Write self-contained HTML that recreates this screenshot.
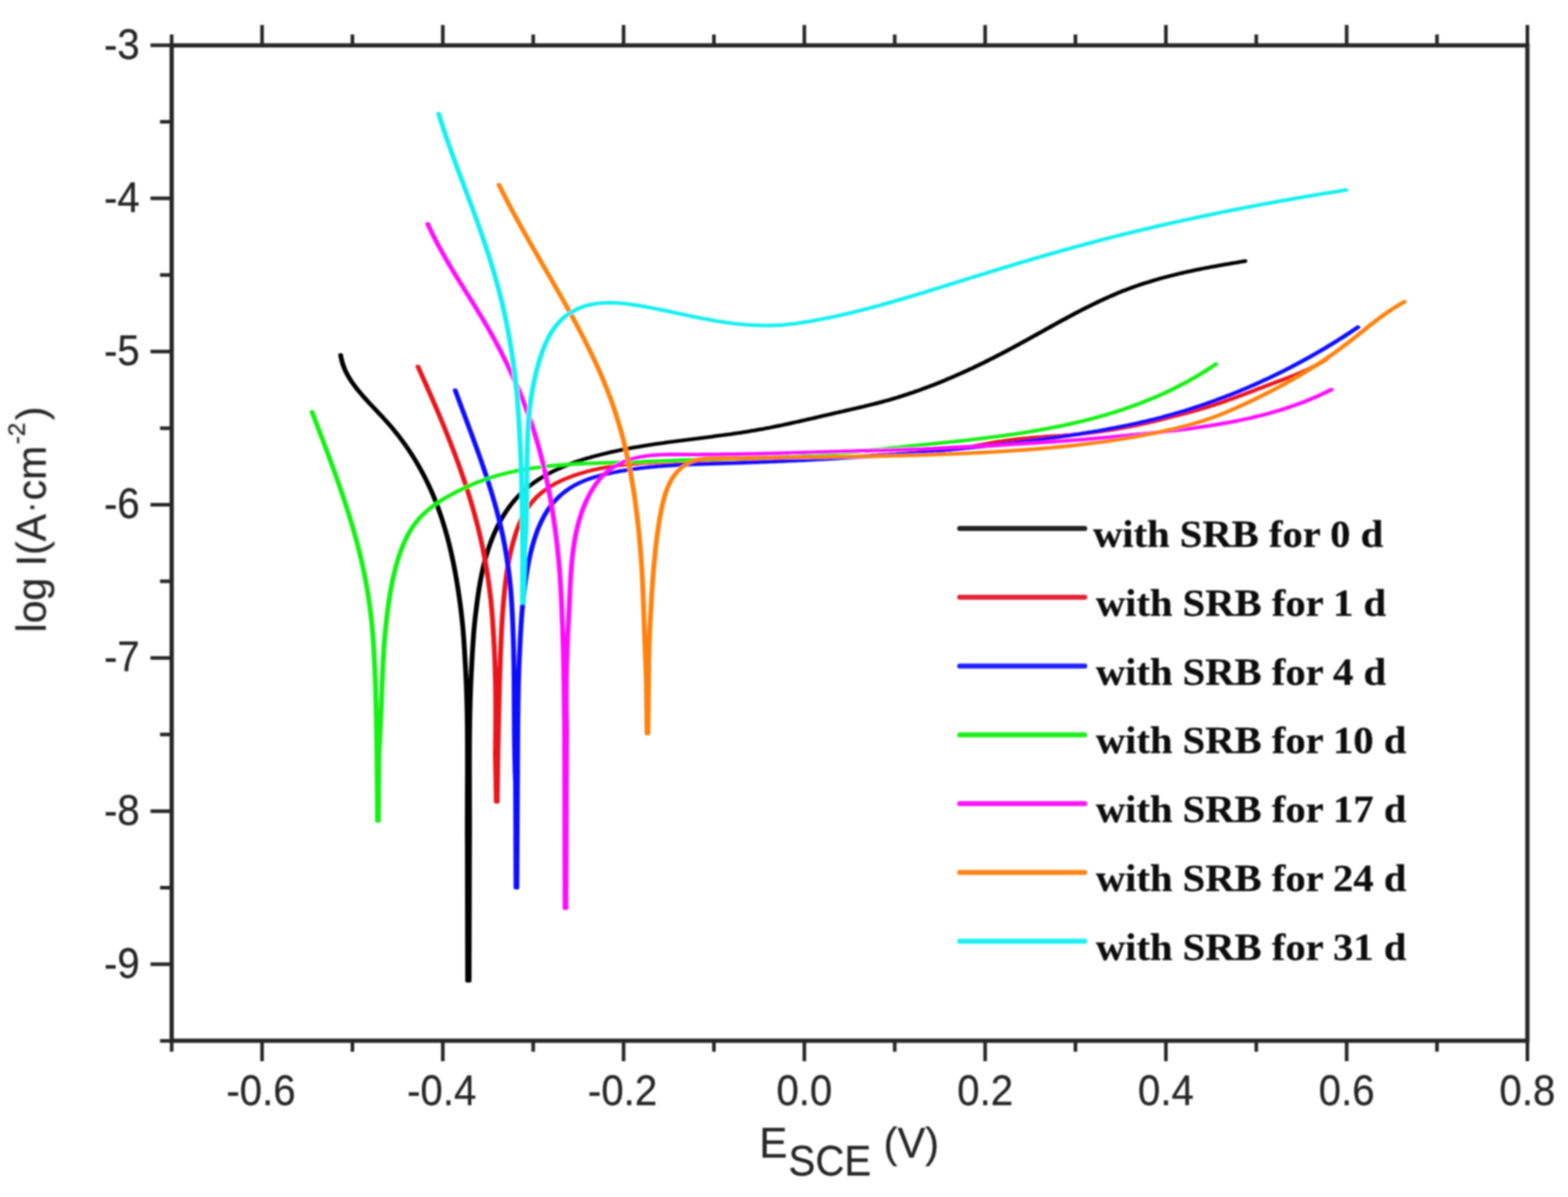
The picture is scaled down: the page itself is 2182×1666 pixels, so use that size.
<!DOCTYPE html>
<html lang="en"><head><meta charset="utf-8"><title>log I(A·cm-2) vs E SCE (V)</title>
<style>html,body{margin:0;padding:0;background:#fff;}body{width:2182px;height:1666px;overflow:hidden;}svg{display:block;}text{font-family:"Liberation Sans",Arial,Helvetica,sans-serif;fill:#262626;stroke:#262626;stroke-width:0.3px;}.lg{font-family:"Liberation Serif","Times New Roman",serif;font-weight:bold;fill:#0c0c0c;stroke:#0c0c0c;stroke-width:0.3px;}</style></head><body>
<svg width="2182" height="1666" viewBox="0 0 2182 1666">
<defs><filter id="soft" x="-2%" y="-2%" width="104%" height="104%"><feGaussianBlur stdDeviation="1.0"/></filter><filter id="soft2" x="-2%" y="-2%" width="104%" height="104%"><feGaussianBlur stdDeviation="1.2"/></filter></defs>
<rect width="2182" height="1666" fill="#ffffff"/>
<g filter="url(#soft2)"><g fill="none" stroke-width="5.1" stroke-linejoin="round" stroke-linecap="round" transform="scale(1.32,1)">
<path stroke="#060606" d="M359.14,494.1 L359.69,498.1 L360.39,502.1 L361.23,506.0 L362.21,509.8 L363.31,513.5 L364.54,517.1 L365.87,520.6 L367.30,524.0 L368.83,527.4 L370.45,530.7 L372.15,533.9 L373.91,537.1 L375.74,540.3 L377.63,543.4 L379.56,546.4 L381.53,549.5 L383.53,552.5 L385.56,555.5 L387.61,558.5 L389.69,561.4 L391.77,564.4 L393.87,567.3 L395.98,570.3 L398.08,573.2 L400.19,576.2 L402.29,579.1 L404.37,582.1 L406.44,585.1 L408.50,588.1 L410.52,591.2 L412.52,594.2 L414.50,597.3 L416.44,600.5 L418.36,603.6 L420.25,606.8 L422.11,610.0 L423.94,613.2 L425.74,616.5 L427.52,619.8 L429.27,623.1 L430.99,626.4 L432.67,629.8 L434.33,633.2 L435.97,636.6 L437.57,640.0 L439.14,643.5 L440.68,646.9 L442.20,650.4 L443.68,653.9 L445.14,657.5 L446.56,661.0 L447.95,664.6 L449.32,668.2 L450.65,671.8 L451.96,675.4 L453.23,679.1 L454.47,682.7 L455.69,686.4 L456.87,690.1 L458.03,693.8 L459.16,697.5 L460.26,701.3 L461.33,705.0 L462.38,708.8 L463.40,712.6 L464.39,716.4 L465.36,720.2 L466.31,724.0 L467.23,727.8 L468.12,731.7 L469.00,735.5 L469.85,739.4 L470.67,743.2 L471.48,747.1 L472.26,751.0 L473.02,754.9 L473.76,758.8 L474.48,762.7 L475.18,766.7 L475.86,770.6 L476.52,774.5 L477.17,778.5 L477.79,782.4 L478.40,786.4 L478.99,790.4 L479.56,794.3 L480.12,798.3 L480.66,802.3 L481.18,806.2 L481.69,810.2 L482.18,814.2 L482.66,818.2 L483.13,822.2 L483.58,826.2 L484.02,830.2 L484.45,834.1 L484.86,838.1 L485.26,842.1 L485.65,846.1 L486.03,850.1 L486.39,854.1 L486.74,858.1 L487.08,862.1 L487.41,866.1 L487.73,870.1 L487.99,874.1 L488.24,878.1 L488.48,882.1 L488.71,886.2 L488.94,890.2 L489.15,894.2 L489.36,898.2 L489.55,902.2 L489.74,906.2 L489.92,910.2 L490.10,914.2 L490.26,918.3 L490.44,922.3 L490.62,926.3 L490.79,930.3 L490.95,934.3 L491.10,938.4 L491.25,942.4 L491.39,946.4 L491.51,950.4 L491.64,954.4 L491.75,958.5 L491.86,962.5 L491.96,966.5 L492.06,970.5 L492.14,974.6 L492.23,978.6 L492.30,982.6 L492.37,986.7 L492.44,990.7 L492.50,994.7 L492.55,998.7 L492.60,1002.8 L492.64,1006.8 L492.68,1010.8 L492.72,1014.9 L492.75,1018.9 L492.78,1022.9 L492.80,1027.0 L492.82,1031.0 L492.84,1035.0 L492.85,1039.0 L492.86,1043.1 L492.86,1047.1 L492.87,1051.1 L492.87,1055.2 L492.87,1059.2 L492.87,1063.2 L492.86,1067.3 L492.86,1071.3 L492.85,1075.3 L492.84,1079.4 L492.83,1083.4 L492.82,1087.4 L492.81,1091.5 L492.79,1095.5 L492.78,1099.5 L492.77,1103.5 L492.75,1107.6 L492.74,1111.6 L492.73,1115.6 L492.72,1119.7 L492.71,1123.7 L492.70,1127.7 L492.69,1131.7 L492.68,1135.8 L492.67,1139.8 L492.67,1143.8 L492.67,1147.8 L492.67,1151.9 L492.67,1155.9 L492.67,1159.9 L492.68,1163.9 L492.69,1167.9 L492.71,1172.0 L492.72,1176.0 L492.74,1180.0 L493.03,1365.0 L494.55,1365.0 L494.91,1180.0 L494.93,1175.9 L494.95,1171.9 L494.96,1167.8 L494.97,1163.8 L494.98,1159.7 L494.98,1155.6 L494.98,1151.6 L494.98,1147.5 L494.98,1143.5 L494.98,1139.4 L494.98,1135.4 L494.97,1131.4 L494.97,1127.3 L494.96,1123.3 L494.95,1119.3 L494.94,1115.2 L494.93,1111.2 L494.92,1107.2 L494.91,1103.1 L494.91,1099.1 L494.90,1095.1 L494.89,1091.1 L494.88,1087.1 L494.88,1083.1 L494.87,1079.0 L494.87,1075.0 L494.86,1071.0 L494.86,1067.0 L494.86,1063.0 L494.87,1059.0 L494.87,1055.0 L494.88,1051.0 L494.89,1047.0 L494.90,1043.0 L494.91,1039.0 L494.93,1035.0 L494.95,1031.0 L494.98,1027.0 L495.01,1023.0 L495.04,1019.0 L495.08,1015.0 L495.12,1011.0 L495.16,1007.0 L495.21,1003.0 L495.26,999.0 L495.32,995.1 L495.38,991.1 L495.45,987.1 L495.53,983.1 L495.61,979.1 L495.69,975.1 L495.78,971.1 L495.88,967.1 L495.98,963.2 L496.09,959.2 L496.21,955.2 L496.33,951.2 L496.46,947.2 L496.60,943.2 L496.75,939.2 L496.90,935.3 L497.06,931.3 L497.23,927.3 L497.39,923.3 L497.54,919.3 L497.71,915.3 L497.88,911.3 L498.06,907.3 L498.24,903.4 L498.44,899.4 L498.64,895.4 L498.85,891.4 L499.07,887.4 L499.29,883.4 L499.53,879.4 L499.77,875.4 L500.06,871.4 L500.36,867.4 L500.68,863.4 L501.01,859.4 L501.35,855.4 L501.71,851.4 L502.07,847.4 L502.45,843.4 L502.83,839.4 L503.24,835.4 L503.66,831.4 L504.09,827.4 L504.55,823.4 L505.02,819.4 L505.52,815.4 L506.05,811.4 L506.59,807.5 L507.17,803.5 L507.77,799.5 L508.40,795.6 L509.07,791.7 L509.77,787.7 L510.50,783.8 L511.27,779.9 L512.07,776.0 L512.92,772.1 L513.81,768.3 L514.73,764.4 L515.71,760.6 L516.72,756.8 L517.79,753.0 L518.90,749.2 L520.06,745.5 L521.28,741.8 L522.54,738.1 L523.86,734.4 L525.23,730.7 L526.66,727.1 L528.14,723.6 L529.67,720.1 L531.25,716.6 L532.89,713.2 L534.59,709.8 L536.34,706.6 L538.14,703.3 L540.00,700.2 L541.91,697.1 L543.88,694.1 L545.90,691.2 L547.98,688.4 L550.11,685.7 L552.29,683.0 L554.52,680.4 L556.80,677.9 L559.12,675.5 L561.49,673.2 L563.90,670.9 L566.36,668.7 L568.85,666.5 L571.39,664.5 L573.96,662.4 L576.56,660.5 L579.20,658.6 L581.87,656.8 L584.57,655.0 L587.31,653.3 L590.07,651.7 L592.85,650.1 L595.66,648.5 L598.50,647.1 L601.35,645.6 L604.23,644.2 L607.12,642.9 L610.03,641.6 L612.95,640.3 L615.89,639.1 L618.85,637.9 L621.81,636.8 L624.78,635.7 L627.76,634.6 L630.75,633.6 L633.74,632.6 L636.73,631.6 L639.72,630.7 L642.72,629.7 L645.72,628.8 L648.71,628.0 L651.71,627.1 L654.71,626.3 L657.71,625.5 L660.71,624.8 L663.71,624.0 L666.71,623.3 L669.71,622.6 L672.72,621.9 L675.72,621.2 L678.72,620.6 L681.73,619.9 L684.73,619.3 L687.74,618.7 L690.74,618.1 L693.75,617.5 L696.75,616.9 L699.76,616.4 L702.76,615.8 L705.77,615.3 L708.77,614.7 L711.78,614.2 L714.79,613.7 L717.79,613.2 L720.80,612.7 L723.80,612.2 L726.81,611.7 L729.81,611.2 L732.82,610.7 L735.82,610.2 L738.83,609.7 L741.83,609.2 L744.84,608.7 L747.84,608.2 L750.84,607.7 L753.85,607.1 L756.85,606.6 L759.85,606.1 L762.85,605.6 L765.85,605.0 L768.85,604.5 L771.85,603.9 L774.85,603.3 L777.85,602.8 L780.84,602.2 L783.84,601.6 L786.83,600.9 L789.83,600.3 L792.82,599.6 L795.81,599.0 L798.80,598.3 L801.79,597.6 L804.78,596.9 L807.77,596.1 L810.75,595.4 L813.74,594.6 L816.72,593.8 L819.71,593.0 L822.69,592.2 L825.67,591.4 L828.65,590.5 L831.63,589.7 L834.61,588.8 L837.59,587.9 L840.57,587.1 L843.55,586.2 L846.52,585.3 L849.50,584.4 L852.47,583.5 L855.45,582.6 L858.42,581.7 L861.39,580.8 L864.36,579.8 L867.34,578.9 L870.31,578.0 L873.28,577.1 L876.25,576.2 L879.22,575.3 L882.19,574.4 L885.16,573.5 L888.12,572.6 L891.09,571.7 L894.06,570.8 L897.02,569.9 L899.98,569.0 L902.95,568.1 L905.90,567.2 L908.86,566.3 L911.81,565.3 L914.76,564.4 L917.71,563.4 L920.65,562.5 L923.59,561.5 L926.52,560.5 L929.45,559.5 L932.38,558.4 L935.30,557.3 L938.21,556.3 L941.12,555.1 L944.02,554.0 L946.92,552.8 L949.81,551.6 L952.70,550.4 L955.58,549.2 L958.46,547.9 L961.33,546.7 L964.19,545.4 L967.05,544.0 L969.91,542.7 L972.76,541.3 L975.60,539.9 L978.44,538.5 L981.28,537.1 L984.11,535.7 L986.93,534.2 L989.75,532.7 L992.56,531.2 L995.37,529.7 L998.18,528.1 L1000.98,526.6 L1003.77,525.0 L1006.56,523.4 L1009.34,521.8 L1012.12,520.1 L1014.90,518.5 L1017.67,516.8 L1020.43,515.2 L1023.19,513.5 L1025.95,511.8 L1028.70,510.0 L1031.45,508.3 L1034.19,506.5 L1036.93,504.8 L1039.66,503.0 L1042.39,501.2 L1045.11,499.4 L1047.83,497.6 L1050.55,495.7 L1053.26,493.9 L1055.96,492.1 L1058.66,490.2 L1061.36,488.3 L1064.05,486.4 L1066.74,484.5 L1069.43,482.6 L1072.11,480.7 L1074.78,478.8 L1077.46,476.8 L1080.13,474.9 L1082.80,473.0 L1085.46,471.0 L1088.13,469.0 L1090.79,467.1 L1093.45,465.1 L1096.11,463.2 L1098.77,461.2 L1101.43,459.3 L1104.09,457.3 L1106.75,455.4 L1109.41,453.4 L1112.07,451.5 L1114.74,449.5 L1117.40,447.6 L1120.07,445.7 L1122.74,443.8 L1125.41,441.9 L1128.09,440.0 L1130.77,438.1 L1133.45,436.2 L1136.14,434.3 L1138.83,432.5 L1141.53,430.7 L1144.23,428.9 L1146.93,427.1 L1149.65,425.3 L1152.36,423.5 L1155.09,421.8 L1157.82,420.0 L1160.56,418.3 L1163.30,416.7 L1166.06,415.0 L1168.82,413.4 L1171.59,411.8 L1174.36,410.2 L1177.15,408.6 L1179.95,407.1 L1182.75,405.6 L1185.57,404.1 L1188.40,402.7 L1191.23,401.3 L1194.08,399.9 L1196.94,398.5 L1199.81,397.2 L1202.68,395.9 L1205.57,394.7 L1208.47,393.5 L1211.37,392.3 L1214.28,391.1 L1217.21,389.9 L1220.13,388.8 L1223.07,387.7 L1226.01,386.7 L1228.96,385.6 L1231.91,384.6 L1234.87,383.6 L1237.83,382.6 L1240.80,381.7 L1243.77,380.7 L1246.75,379.8 L1249.73,378.9 L1252.71,378.0 L1255.70,377.2 L1258.69,376.3 L1261.68,375.5 L1264.67,374.7 L1267.66,373.9 L1270.65,373.1 L1273.65,372.4 L1276.64,371.6 L1279.63,370.9 L1282.62,370.2 L1285.62,369.4 L1288.60,368.7 L1291.59,368.0 L1294.58,367.4 L1297.56,366.7 L1300.54,366.0 L1303.51,365.4 L1306.48,364.7 L1309.45,364.1 L1312.41,363.4"/>
<path stroke="#e8141e" d="M440.60,510.2 L441.85,513.9 L443.10,517.5 L444.34,521.2 L445.59,524.9 L446.83,528.5 L448.07,532.2 L449.30,535.9 L450.54,539.6 L451.77,543.2 L452.99,546.9 L454.22,550.6 L455.44,554.3 L456.65,558.0 L457.86,561.7 L459.07,565.4 L460.27,569.1 L461.47,572.8 L462.66,576.6 L463.84,580.3 L465.02,584.0 L466.19,587.7 L467.36,591.5 L468.52,595.2 L469.67,598.9 L470.82,602.7 L471.95,606.4 L473.08,610.2 L474.20,613.9 L475.32,617.7 L476.42,621.5 L477.52,625.2 L478.61,629.0 L479.69,632.8 L480.75,636.6 L481.81,640.4 L482.86,644.2 L483.90,648.0 L484.93,651.8 L485.95,655.6 L486.95,659.4 L487.95,663.2 L488.93,667.0 L489.91,670.8 L490.87,674.6 L491.81,678.5 L492.75,682.3 L493.67,686.1 L494.58,690.0 L495.48,693.8 L496.36,697.7 L497.23,701.6 L498.08,705.4 L498.92,709.3 L499.75,713.2 L500.56,717.0 L501.36,720.9 L502.14,724.8 L502.91,728.7 L503.66,732.6 L504.39,736.5 L505.11,740.4 L505.81,744.3 L506.49,748.2 L507.16,752.1 L507.81,756.1 L508.44,760.0 L509.06,763.9 L509.66,767.9 L510.24,771.8 L510.81,775.8 L511.36,779.7 L511.89,783.7 L512.41,787.6 L512.91,791.6 L513.40,795.6 L513.87,799.6 L514.33,803.5 L514.78,807.5 L515.21,811.5 L515.62,815.5 L516.02,819.5 L516.41,823.5 L516.78,827.5 L517.14,831.5 L517.49,835.5 L517.80,839.5 L518.07,843.5 L518.34,847.5 L518.59,851.5 L518.83,855.5 L519.06,859.6 L519.29,863.6 L519.50,867.6 L519.70,871.6 L519.90,875.7 L520.08,879.7 L520.26,883.7 L520.46,887.7 L520.64,891.8 L520.82,895.8 L520.99,899.8 L521.15,903.9 L521.29,907.9 L521.43,912.0 L521.56,916.0 L521.68,920.0 L521.80,924.1 L521.90,928.1 L522.00,932.2 L522.09,936.2 L522.17,940.2 L522.24,944.3 L522.31,948.3 L522.37,952.4 L522.42,956.4 L522.47,960.4 L522.51,964.5 L522.54,968.5 L522.57,972.6 L522.59,976.6 L522.61,980.6 L522.62,984.7 L522.63,988.7 L522.63,992.7 L522.63,996.8 L522.62,1000.8 L522.61,1004.8 L522.59,1008.8 L522.58,1012.9 L522.55,1016.9 L522.53,1020.9 L522.50,1024.9 L522.47,1028.9 L522.43,1032.9 L522.39,1037.0 L522.35,1041.0 L522.31,1045.0 L522.27,1049.0 L523.26,1116.0 L524.17,1116.0 L524.88,1049.0 L524.96,1045.0 L525.03,1041.0 L525.10,1037.0 L525.17,1033.0 L525.24,1029.0 L525.30,1025.0 L525.37,1021.0 L525.43,1017.0 L525.50,1013.0 L525.57,1008.9 L525.63,1004.9 L525.70,1000.9 L525.76,996.9 L525.83,992.9 L525.90,988.9 L525.97,984.9 L526.04,980.8 L526.11,976.8 L526.19,972.8 L526.26,968.8 L526.34,964.8 L526.42,960.8 L526.51,956.7 L526.59,952.7 L526.68,948.7 L526.78,944.7 L526.88,940.7 L526.98,936.7 L527.08,932.6 L527.19,928.6 L527.29,924.6 L527.39,920.6 L527.49,916.6 L527.60,912.6 L527.72,908.6 L527.83,904.6 L527.96,900.5 L528.09,896.5 L528.22,892.5 L528.36,888.5 L528.50,884.5 L528.65,880.5 L528.81,876.5 L528.97,872.5 L529.14,868.5 L529.31,864.5 L529.50,860.5 L529.68,856.6 L529.90,852.6 L530.14,848.6 L530.38,844.6 L530.64,840.6 L530.91,836.6 L531.18,832.7 L531.47,828.7 L531.76,824.7 L532.07,820.8 L532.40,816.8 L532.74,812.8 L533.10,808.9 L533.48,804.9 L533.88,800.9 L534.31,797.0 L534.77,793.0 L535.25,789.1 L535.77,785.1 L536.31,781.2 L536.89,777.2 L537.51,773.3 L538.16,769.3 L538.86,765.4 L539.59,761.4 L540.37,757.5 L541.19,753.5 L542.06,749.6 L542.98,745.6 L543.95,741.7 L544.98,737.8 L546.07,733.9 L547.22,730.1 L548.44,726.3 L549.72,722.6 L551.08,718.9 L552.51,715.3 L554.02,711.8 L555.61,708.4 L557.28,705.1 L559.05,701.9 L560.90,698.9 L562.84,695.9 L564.87,693.1 L566.99,690.3 L569.18,687.7 L571.45,685.2 L573.80,682.8 L576.21,680.6 L578.68,678.4 L581.22,676.3 L583.81,674.3 L586.45,672.4 L589.14,670.6 L591.88,668.9 L594.65,667.2 L597.46,665.7 L600.31,664.2 L603.18,662.8 L606.07,661.4 L608.99,660.2 L611.92,658.9 L614.86,657.8 L617.82,656.7 L620.77,655.7 L623.74,654.7 L626.70,653.7 L629.68,652.9 L632.65,652.0 L635.64,651.3 L638.62,650.5 L641.61,649.8 L644.61,649.2 L647.61,648.6 L650.61,648.0 L653.61,647.5 L656.62,647.0 L659.64,646.5 L662.65,646.1 L665.67,645.8 L668.70,645.4 L671.72,645.1 L674.75,644.8 L677.78,644.5 L680.82,644.3 L683.85,644.1 L686.89,643.9 L689.93,643.8 L692.98,643.6 L696.02,643.5 L699.07,643.4 L702.11,643.3 L705.16,643.3 L708.21,643.2 L711.26,643.2 L714.31,643.2 L717.37,643.2 L720.42,643.2 L723.47,643.2 L726.53,643.2 L729.58,643.2 L732.64,643.2 L735.69,643.2 L738.75,643.3 L741.80,643.3 L744.85,643.3 L747.91,643.3 L750.96,643.3 L754.01,643.3 L757.06,643.3 L760.11,643.3 L763.16,643.3 L766.21,643.3 L769.25,643.2 L772.30,643.2 L775.34,643.1 L778.38,643.0 L781.42,643.0 L784.46,642.9 L787.50,642.8 L790.54,642.7 L793.58,642.6 L796.62,642.5 L799.66,642.4 L802.69,642.2 L805.73,642.1 L808.76,642.0 L811.80,641.8 L814.83,641.7 L817.86,641.5 L820.89,641.4 L823.93,641.2 L826.96,641.0 L829.99,640.8 L833.02,640.7 L836.05,640.5 L839.08,640.3 L842.11,640.1 L845.14,639.9 L848.16,639.7 L851.19,639.5 L854.22,639.3 L857.25,639.0 L860.28,638.8 L863.31,638.6 L866.33,638.4 L869.36,638.1 L872.39,637.9 L875.42,637.7 L878.45,637.4 L881.48,637.2 L884.51,636.9 L887.53,636.7 L890.56,636.5 L893.59,636.2 L896.62,636.0 L899.65,635.7 L902.68,635.5 L905.71,635.2 L908.74,635.0 L911.78,634.7 L914.81,634.5 L917.84,634.2 L920.87,633.9 L923.91,633.7 L926.94,633.4 L929.98,633.2 L933.01,632.9 L936.05,632.7 L939.09,632.4 L942.13,632.2 L945.16,632.0 L948.20,631.7 L951.25,631.5 L954.29,631.2 L957.33,631.0 L960.37,630.7 L963.41,630.5 L966.45,630.2 L969.49,629.9 L972.53,629.7 L975.57,629.4 L978.61,629.1 L981.64,628.7 L984.67,628.4 L987.70,628.0 L990.73,627.6 L993.76,627.2 L996.78,626.8 L999.80,626.3 L1002.81,625.9 L1005.83,625.3 L1008.83,624.8 L1011.84,624.2 L1014.84,623.6 L1017.83,623.0 L1020.82,622.3 L1023.81,621.6 L1026.80,620.9 L1029.78,620.1 L1032.77,619.4 L1035.75,618.7 L1038.73,617.9 L1041.72,617.2 L1044.70,616.5 L1047.69,615.8 L1050.68,615.1 L1053.67,614.5 L1056.67,613.9 L1059.67,613.3 L1062.68,612.8 L1065.69,612.3 L1068.70,611.8 L1071.72,611.3 L1074.74,610.9 L1077.76,610.5 L1080.79,610.1 L1083.82,609.8 L1086.85,609.4 L1089.88,609.1 L1092.91,608.8 L1095.94,608.5 L1098.98,608.2 L1102.02,607.9 L1105.05,607.6 L1108.09,607.3 L1111.13,607.0 L1114.16,606.8 L1117.20,606.5 L1120.23,606.2 L1123.27,605.8 L1126.30,605.5 L1129.33,605.2 L1132.36,604.8 L1135.39,604.4 L1138.41,604.1 L1141.44,603.6 L1144.46,603.2 L1147.47,602.7 L1150.49,602.3 L1153.50,601.8 L1156.51,601.2 L1159.52,600.7 L1162.53,600.1 L1165.53,599.6 L1168.53,598.9 L1171.53,598.3 L1174.52,597.7 L1177.52,597.0 L1180.51,596.3 L1183.49,595.6 L1186.48,594.9 L1189.46,594.1 L1192.44,593.4 L1195.42,592.6 L1198.40,591.8 L1201.37,590.9 L1204.34,590.1 L1207.31,589.2 L1210.28,588.3 L1213.24,587.4 L1216.20,586.5 L1219.16,585.5 L1222.11,584.6 L1225.07,583.6 L1228.02,582.6 L1230.97,581.6 L1233.92,580.6 L1236.87,579.6 L1239.81,578.6 L1242.75,577.6 L1245.70,576.6 L1248.64,575.6 L1251.57,574.5 L1254.51,573.5 L1257.44,572.4 L1260.36,571.3 L1263.29,570.3 L1266.20,569.2 L1269.12,568.0 L1272.03,566.9 L1274.93,565.7 L1277.82,564.5 L1280.71,563.3 L1283.59,562.0 L1286.47,560.8 L1289.34,559.5 L1292.20,558.1 L1295.06,556.8 L1297.92,555.4 L1300.77,554.1 L1303.62,552.7 L1306.47,551.3 L1309.32,549.9 L1312.16,548.4 L1315.00,547.0 L1317.84,545.6 L1320.68,544.2 L1323.52,542.7 L1326.36,541.3 L1329.21,539.9 L1332.05,538.4 L1334.89,537.0 L1337.74,535.6 L1340.59,534.2 L1343.44,532.8 L1346.30,531.4 L1349.15,530.1 L1352.01,528.7 L1354.85,527.3 L1357.70,525.9 L1360.53,524.4 L1363.36,523.0 L1366.17,521.5 L1368.98,520.0 L1371.77,518.4 L1374.54,516.8 L1377.29,515.2 L1380.03,513.5 L1382.74,511.7 L1385.44,509.9 L1388.10,508.0 L1390.74,506.0 L1393.36,503.9 L1395.94,501.8 L1398.49,499.5"/>
<path stroke="#0c0cff" d="M479.86,543.1 L480.91,546.8 L481.97,550.6 L483.03,554.4 L484.09,558.2 L485.16,562.0 L486.23,565.8 L487.30,569.6 L488.37,573.3 L489.45,577.1 L490.52,580.9 L491.60,584.7 L492.67,588.5 L493.74,592.3 L494.81,596.1 L495.88,599.9 L496.95,603.7 L498.01,607.5 L499.07,611.4 L500.13,615.2 L501.18,619.0 L502.23,622.8 L503.27,626.6 L504.30,630.4 L505.33,634.3 L506.36,638.1 L507.37,641.9 L508.38,645.8 L509.38,649.6 L510.37,653.5 L511.35,657.3 L512.32,661.1 L513.28,665.0 L514.23,668.9 L515.17,672.7 L516.10,676.6 L517.01,680.4 L517.91,684.3 L518.80,688.2 L519.68,692.1 L520.54,696.0 L521.38,699.8 L522.21,703.7 L523.03,707.6 L523.83,711.5 L524.61,715.4 L525.38,719.4 L526.13,723.3 L526.86,727.2 L527.57,731.1 L528.26,735.0 L528.93,739.0 L529.58,742.9 L530.22,746.9 L530.83,750.8 L531.42,754.8 L531.98,758.7 L532.53,762.7 L533.06,766.7 L533.57,770.7 L534.06,774.6 L534.53,778.6 L534.98,782.6 L535.41,786.6 L535.83,790.6 L536.23,794.6 L536.61,798.6 L536.97,802.6 L537.32,806.6 L537.65,810.7 L537.97,814.7 L538.27,818.7 L538.54,822.7 L538.77,826.8 L538.99,830.8 L539.20,834.8 L539.40,838.9 L539.59,842.9 L539.77,847.0 L539.94,851.0 L540.10,855.1 L540.24,859.1 L540.39,863.1 L540.52,867.2 L540.64,871.3 L540.76,875.3 L540.86,879.4 L540.96,883.4 L541.07,887.5 L541.17,891.5 L541.27,895.6 L541.36,899.6 L541.44,903.7 L541.51,907.8 L541.58,911.8 L541.64,915.9 L541.70,919.9 L541.75,924.0 L541.80,928.1 L541.84,932.1 L541.88,936.2 L541.92,940.2 L541.95,944.3 L541.98,948.4 L542.00,952.4 L542.03,956.5 L542.05,960.5 L542.07,964.6 L542.09,968.7 L542.10,972.7 L542.12,976.8 L542.13,980.8 L542.15,984.9 L542.16,988.9 L542.18,993.0 L542.19,997.0 L542.21,1001.1 L542.23,1005.2 L542.25,1009.2 L542.27,1013.3 L542.30,1017.3 L542.33,1021.4 L542.36,1025.4 L542.39,1029.5 L542.43,1033.5 L542.47,1037.5 L542.52,1041.6 L542.57,1045.6 L542.63,1049.7 L542.69,1053.7 L542.76,1057.7 L542.83,1061.8 L542.91,1065.8 L543.00,1069.8 L543.09,1073.9 L543.20,1077.9 L543.31,1081.9 L543.42,1085.9 L543.55,1090.0 L544.02,1235.5 L544.92,1235.5 L545.51,1090.0 L545.54,1086.0 L545.56,1082.0 L545.59,1077.9 L545.61,1073.9 L545.63,1069.8 L545.65,1065.8 L545.67,1061.8 L545.69,1057.8 L545.70,1053.7 L545.72,1049.7 L545.74,1045.7 L545.75,1041.7 L545.77,1037.7 L545.79,1033.6 L545.80,1029.6 L545.82,1025.6 L545.84,1021.6 L545.86,1017.6 L545.89,1013.6 L545.91,1009.6 L545.94,1005.5 L545.97,1001.5 L546.00,997.5 L546.03,993.5 L546.07,989.5 L546.11,985.5 L546.15,981.5 L546.20,977.5 L546.25,973.5 L546.30,969.5 L546.36,965.5 L546.42,961.5 L546.49,957.5 L546.56,953.5 L546.64,949.5 L546.72,945.5 L546.81,941.5 L546.90,937.5 L547.00,933.5 L547.11,929.5 L547.22,925.6 L547.34,921.6 L547.47,917.6 L547.60,913.6 L547.74,909.6 L547.89,905.6 L548.03,901.6 L548.17,897.6 L548.32,893.6 L548.47,889.6 L548.63,885.6 L548.80,881.6 L548.98,877.6 L549.16,873.6 L549.35,869.6 L549.55,865.6 L549.76,861.7 L549.98,857.7 L550.21,853.7 L550.44,849.7 L550.72,845.7 L551.01,841.7 L551.32,837.7 L551.65,833.7 L551.98,829.7 L552.33,825.7 L552.68,821.7 L553.05,817.7 L553.44,813.7 L553.85,809.7 L554.27,805.7 L554.72,801.7 L555.19,797.7 L555.69,793.7 L556.21,789.7 L556.76,785.8 L557.35,781.8 L557.96,777.8 L558.62,773.9 L559.31,770.0 L560.04,766.0 L560.81,762.1 L561.63,758.2 L562.49,754.3 L563.39,750.4 L564.35,746.6 L565.36,742.7 L566.42,738.9 L567.55,735.1 L568.73,731.4 L569.98,727.7 L571.29,724.1 L572.68,720.5 L574.13,717.0 L575.66,713.6 L577.27,710.2 L578.96,707.0 L580.74,703.8 L582.60,700.7 L584.55,697.7 L586.57,694.9 L588.68,692.1 L590.87,689.4 L593.13,686.9 L595.46,684.4 L597.86,682.1 L600.32,679.8 L602.85,677.7 L605.44,675.7 L608.08,673.9 L610.78,672.1 L613.53,670.5 L616.32,668.9 L619.15,667.5 L622.02,666.1 L624.92,664.9 L627.85,663.7 L630.80,662.6 L633.77,661.5 L636.75,660.5 L639.75,659.6 L642.75,658.7 L645.75,657.9 L648.75,657.1 L651.75,656.3 L654.76,655.6 L657.77,654.9 L660.78,654.2 L663.79,653.6 L666.80,653.0 L669.82,652.5 L672.84,651.9 L675.85,651.4 L678.87,651.0 L681.89,650.5 L684.92,650.1 L687.94,649.7 L690.97,649.4 L693.99,649.0 L697.02,648.7 L700.05,648.4 L703.08,648.1 L706.11,647.9 L709.14,647.6 L712.17,647.4 L715.20,647.2 L718.23,647.0 L721.27,646.8 L724.30,646.6 L727.34,646.5 L730.37,646.3 L733.41,646.2 L736.45,646.0 L739.48,645.9 L742.52,645.8 L745.56,645.6 L748.60,645.5 L751.63,645.4 L754.67,645.3 L757.71,645.2 L760.75,645.0 L763.79,644.9 L766.82,644.8 L769.86,644.6 L772.90,644.5 L775.94,644.4 L778.98,644.2 L782.01,644.1 L785.05,643.9 L788.09,643.8 L791.13,643.7 L794.17,643.5 L797.20,643.4 L800.24,643.2 L803.28,643.0 L806.32,642.9 L809.35,642.7 L812.39,642.5 L815.43,642.4 L818.46,642.2 L821.50,642.0 L824.54,641.9 L827.57,641.7 L830.61,641.5 L833.65,641.3 L836.68,641.1 L839.72,640.9 L842.76,640.7 L845.79,640.6 L848.83,640.4 L851.87,640.1 L854.90,639.9 L857.94,639.7 L860.97,639.5 L864.01,639.3 L867.04,639.1 L870.08,638.9 L873.11,638.7 L876.15,638.4 L879.18,638.2 L882.22,638.0 L885.25,637.7 L888.29,637.5 L891.32,637.3 L894.35,637.0 L897.39,636.8 L900.42,636.5 L903.45,636.2 L906.49,636.0 L909.52,635.7 L912.55,635.5 L915.59,635.2 L918.62,634.9 L921.65,634.6 L924.68,634.4 L927.71,634.1 L930.74,633.8 L933.78,633.5 L936.81,633.2 L939.84,632.9 L942.87,632.6 L945.90,632.3 L948.93,632.0 L951.96,631.7 L954.99,631.4 L958.02,631.0 L961.05,630.7 L964.08,630.4 L967.10,630.1 L970.13,629.7 L973.16,629.4 L976.19,629.0 L979.21,628.7 L982.24,628.3 L985.27,628.0 L988.30,627.6 L991.32,627.3 L994.35,626.9 L997.37,626.5 L1000.40,626.1 L1003.42,625.8 L1006.45,625.4 L1009.47,625.0 L1012.50,624.6 L1015.52,624.2 L1018.54,623.8 L1021.57,623.4 L1024.59,623.0 L1027.61,622.6 L1030.63,622.1 L1033.66,621.7 L1036.68,621.3 L1039.70,620.8 L1042.72,620.4 L1045.74,620.0 L1048.76,619.5 L1051.78,619.1 L1054.80,618.6 L1057.82,618.1 L1060.84,617.7 L1063.85,617.2 L1066.87,616.7 L1069.89,616.3 L1072.91,615.8 L1075.92,615.3 L1078.94,614.8 L1081.95,614.3 L1084.97,613.8 L1087.98,613.3 L1091.00,612.8 L1094.01,612.2 L1097.03,611.7 L1100.04,611.2 L1103.05,610.6 L1106.06,610.1 L1109.08,609.6 L1112.09,609.0 L1115.10,608.5 L1118.11,607.9 L1121.12,607.3 L1124.13,606.7 L1127.13,606.2 L1130.14,605.6 L1133.15,605.0 L1136.15,604.4 L1139.15,603.7 L1142.16,603.1 L1145.16,602.5 L1148.16,601.8 L1151.15,601.2 L1154.15,600.5 L1157.15,599.9 L1160.14,599.2 L1163.13,598.5 L1166.12,597.8 L1169.11,597.0 L1172.09,596.3 L1175.07,595.6 L1178.06,594.8 L1181.03,594.0 L1184.01,593.2 L1186.99,592.4 L1189.96,591.6 L1192.93,590.8 L1195.89,590.0 L1198.86,589.1 L1201.82,588.2 L1204.78,587.3 L1207.73,586.4 L1210.68,585.5 L1213.63,584.5 L1216.58,583.6 L1219.52,582.6 L1222.46,581.6 L1225.40,580.6 L1228.33,579.5 L1231.26,578.5 L1234.18,577.4 L1237.11,576.3 L1240.02,575.2 L1242.94,574.1 L1245.85,572.9 L1248.76,571.8 L1251.66,570.6 L1254.56,569.4 L1257.45,568.2 L1260.34,566.9 L1263.23,565.7 L1266.11,564.4 L1268.99,563.1 L1271.87,561.8 L1274.74,560.4 L1277.60,559.1 L1280.46,557.7 L1283.32,556.3 L1286.17,554.9 L1289.01,553.5 L1291.86,552.1 L1294.69,550.6 L1297.52,549.2 L1300.35,547.7 L1303.17,546.2 L1305.99,544.7 L1308.80,543.1 L1311.61,541.6 L1314.41,540.0 L1317.20,538.4 L1319.99,536.8 L1322.78,535.2 L1325.56,533.5 L1328.33,531.9 L1331.10,530.2 L1333.86,528.5 L1336.62,526.8 L1339.37,525.1 L1342.12,523.4 L1344.86,521.6 L1347.59,519.9 L1350.32,518.1 L1353.04,516.3 L1355.75,514.5 L1358.46,512.6 L1361.16,510.8 L1363.86,508.9 L1366.55,507.1 L1369.23,505.2 L1371.91,503.3 L1374.58,501.3 L1377.24,499.4 L1379.90,497.5 L1382.55,495.5 L1385.19,493.5 L1387.83,491.5 L1390.46,489.5 L1393.08,487.5 L1395.69,485.5 L1398.30,483.4 L1400.90,481.3 L1403.50,479.3 L1406.08,477.2 L1408.66,475.1 L1411.23,472.9 L1413.79,470.8 L1416.35,468.7 L1418.90,466.5 L1421.44,464.3 L1423.97,462.1 L1426.50,459.9 L1429.02,457.7 L1431.52,455.5"/>
<path stroke="#18f018" d="M328.93,573.3 L330.02,577.1 L331.10,580.8 L332.19,584.6 L333.28,588.4 L334.37,592.1 L335.45,595.9 L336.54,599.7 L337.63,603.5 L338.71,607.2 L339.79,611.0 L340.87,614.8 L341.95,618.6 L343.03,622.4 L344.10,626.1 L345.17,629.9 L346.24,633.7 L347.30,637.5 L348.36,641.3 L349.42,645.1 L350.47,648.9 L351.51,652.7 L352.55,656.5 L353.58,660.3 L354.61,664.1 L355.63,668.0 L356.65,671.8 L357.65,675.6 L358.65,679.4 L359.65,683.2 L360.63,687.1 L361.61,690.9 L362.57,694.7 L363.53,698.6 L364.48,702.4 L365.42,706.3 L366.35,710.1 L367.27,714.0 L368.18,717.8 L369.07,721.7 L369.96,725.5 L370.83,729.4 L371.70,733.3 L372.55,737.1 L373.38,741.0 L374.21,744.9 L375.02,748.8 L375.82,752.7 L376.60,756.6 L377.38,760.5 L378.13,764.4 L378.87,768.3 L379.60,772.2 L380.31,776.1 L381.00,780.0 L381.68,784.0 L382.34,787.9 L382.99,791.8 L383.62,795.8 L384.23,799.7 L384.82,803.6 L385.40,807.6 L385.95,811.6 L386.49,815.5 L387.01,819.5 L387.51,823.5 L388.00,827.4 L388.47,831.4 L388.92,835.4 L389.35,839.4 L389.77,843.4 L390.17,847.4 L390.56,851.4 L390.93,855.4 L391.29,859.4 L391.63,863.4 L391.96,867.4 L392.27,871.4 L392.55,875.4 L392.80,879.5 L393.03,883.5 L393.25,887.5 L393.47,891.5 L393.67,895.6 L393.87,899.6 L394.05,903.6 L394.23,907.7 L394.40,911.7 L394.55,915.7 L394.71,919.8 L394.85,923.8 L394.98,927.9 L395.13,931.9 L395.27,936.0 L395.41,940.0 L395.54,944.1 L395.66,948.1 L395.77,952.1 L395.88,956.2 L395.98,960.2 L396.08,964.3 L396.17,968.3 L396.25,972.4 L396.33,976.4 L396.41,980.5 L396.48,984.5 L396.55,988.6 L396.62,992.6 L396.68,996.6 L396.74,1000.7 L396.80,1004.7 L396.86,1008.8 L396.91,1012.8 L396.96,1016.8 L397.02,1020.9 L397.07,1024.9 L397.12,1028.9 L397.17,1032.9 L397.23,1037.0 L397.28,1041.0 L397.34,1045.0 L397.39,1049.0 L398.03,1142.5 L398.94,1142.5 L399.48,1049.0 L399.67,1045.0 L399.85,1041.0 L400.03,1037.0 L400.20,1032.9 L400.36,1028.9 L400.52,1024.9 L400.67,1020.9 L400.82,1016.9 L400.96,1012.8 L401.10,1008.8 L401.24,1004.8 L401.38,1000.8 L401.51,996.8 L401.64,992.8 L401.77,988.8 L401.90,984.8 L402.02,980.8 L402.13,976.8 L402.24,972.8 L402.35,968.8 L402.46,964.8 L402.57,960.8 L402.69,956.8 L402.81,952.8 L402.93,948.8 L403.05,944.8 L403.18,940.8 L403.32,936.8 L403.45,932.8 L403.60,928.8 L403.74,924.8 L403.90,920.9 L404.06,916.9 L404.22,912.9 L404.40,908.9 L404.58,904.9 L404.80,900.9 L405.03,896.9 L405.28,892.9 L405.53,888.9 L405.79,884.9 L406.06,881.0 L406.35,877.0 L406.65,873.0 L406.96,869.0 L407.29,865.0 L407.62,861.0 L407.98,857.0 L408.35,853.0 L408.73,849.0 L409.13,845.0 L409.54,841.1 L409.98,837.1 L410.43,833.1 L410.91,829.1 L411.41,825.1 L411.93,821.1 L412.48,817.1 L413.05,813.2 L413.66,809.2 L414.29,805.3 L414.96,801.3 L415.66,797.4 L416.39,793.5 L417.17,789.6 L417.98,785.7 L418.83,781.8 L419.72,777.9 L420.65,774.1 L421.63,770.2 L422.66,766.4 L423.74,762.7 L424.87,758.9 L426.07,755.2 L427.32,751.6 L428.64,748.0 L430.02,744.5 L431.48,741.0 L433.00,737.6 L434.61,734.3 L436.29,731.0 L438.06,727.8 L439.91,724.8 L441.85,721.8 L443.87,718.9 L445.96,716.1 L448.13,713.4 L450.38,710.8 L452.68,708.2 L455.05,705.7 L457.48,703.4 L459.95,701.0 L462.48,698.8 L465.05,696.6 L467.66,694.5 L470.30,692.5 L472.97,690.5 L475.67,688.5 L478.39,686.6 L481.12,684.7 L483.86,682.9 L486.62,681.1 L489.39,679.4 L492.17,677.7 L494.96,676.0 L497.76,674.4 L500.58,672.8 L503.40,671.3 L506.24,669.9 L509.08,668.4 L511.94,667.1 L514.80,665.8 L517.68,664.5 L520.57,663.3 L523.46,662.2 L526.37,661.1 L529.28,660.1 L532.21,659.1 L535.14,658.1 L538.07,657.2 L541.02,656.4 L543.97,655.5 L546.93,654.8 L549.90,654.0 L552.87,653.3 L555.85,652.7 L558.83,652.0 L561.82,651.5 L564.81,650.9 L567.81,650.4 L570.81,649.9 L573.82,649.4 L576.83,648.9 L579.85,648.5 L582.87,648.1 L585.89,647.8 L588.92,647.4 L591.95,647.1 L594.98,646.8 L598.01,646.5 L601.05,646.3 L604.09,646.0 L607.13,645.8 L610.17,645.6 L613.22,645.4 L616.27,645.2 L619.31,645.0 L622.36,644.9 L625.41,644.7 L628.46,644.6 L631.51,644.5 L634.56,644.3 L637.61,644.2 L640.66,644.1 L643.71,644.0 L646.76,643.8 L649.80,643.7 L652.85,643.6 L655.89,643.5 L658.94,643.4 L661.98,643.2 L665.02,643.1 L668.05,643.0 L671.09,642.9 L674.13,642.7 L677.16,642.6 L680.19,642.4 L683.22,642.3 L686.25,642.1 L689.28,642.0 L692.31,641.8 L695.34,641.7 L698.37,641.5 L701.39,641.4 L704.42,641.2 L707.45,641.1 L710.47,640.9 L713.50,640.8 L716.53,640.6 L719.55,640.4 L722.58,640.3 L725.61,640.1 L728.64,640.0 L731.67,639.8 L734.70,639.7 L737.73,639.5 L740.76,639.4 L743.79,639.3 L746.83,639.1 L749.86,639.0 L752.90,638.9 L755.94,638.7 L758.98,638.6 L762.02,638.5 L765.06,638.4 L768.11,638.3 L771.16,638.2 L774.20,638.1 L777.25,637.9 L780.30,637.8 L783.35,637.7 L786.40,637.6 L789.45,637.5 L792.50,637.4 L795.55,637.3 L798.61,637.2 L801.66,637.1 L804.71,637.0 L807.76,636.8 L810.81,636.7 L813.86,636.6 L816.91,636.4 L819.95,636.3 L823.00,636.1 L826.05,636.0 L829.09,635.8 L832.13,635.6 L835.17,635.5 L838.21,635.3 L841.25,635.1 L844.29,634.9 L847.32,634.6 L850.35,634.4 L853.38,634.2 L856.41,633.9 L859.43,633.6 L862.45,633.4 L865.47,633.1 L868.48,632.8 L871.50,632.5 L874.51,632.1 L877.52,631.8 L880.53,631.5 L883.54,631.1 L886.55,630.8 L889.55,630.4 L892.56,630.0 L895.56,629.6 L898.57,629.3 L901.57,628.9 L904.57,628.5 L907.58,628.1 L910.58,627.7 L913.58,627.3 L916.59,626.8 L919.59,626.4 L922.59,626.0 L925.60,625.6 L928.61,625.2 L931.61,624.8 L934.62,624.3 L937.63,623.9 L940.65,623.5 L943.66,623.1 L946.67,622.7 L949.69,622.3 L952.71,621.9 L955.73,621.4 L958.76,621.0 L961.78,620.6 L964.81,620.2 L967.84,619.8 L970.87,619.4 L973.90,619.0 L976.93,618.6 L979.96,618.2 L983.00,617.8 L986.03,617.4 L989.07,617.0 L992.10,616.6 L995.14,616.1 L998.18,615.7 L1001.22,615.3 L1004.26,614.9 L1007.29,614.4 L1010.33,614.0 L1013.37,613.6 L1016.41,613.1 L1019.45,612.7 L1022.48,612.2 L1025.52,611.7 L1028.56,611.3 L1031.59,610.8 L1034.63,610.3 L1037.66,609.8 L1040.69,609.3 L1043.73,608.8 L1046.76,608.3 L1049.79,607.8 L1052.82,607.3 L1055.84,606.7 L1058.87,606.2 L1061.89,605.6 L1064.91,605.0 L1067.93,604.5 L1070.95,603.9 L1073.97,603.3 L1076.98,602.7 L1079.99,602.0 L1083.00,601.4 L1086.01,600.8 L1089.01,600.1 L1092.01,599.4 L1095.01,598.7 L1098.00,598.0 L1101.00,597.3 L1103.99,596.6 L1106.97,595.8 L1109.95,595.1 L1112.93,594.3 L1115.91,593.5 L1118.88,592.7 L1121.85,591.9 L1124.81,591.0 L1127.77,590.2 L1130.73,589.3 L1133.68,588.4 L1136.63,587.5 L1139.58,586.6 L1142.52,585.6 L1145.45,584.6 L1148.38,583.7 L1151.31,582.6 L1154.23,581.6 L1157.14,580.6 L1160.05,579.5 L1162.96,578.4 L1165.86,577.3 L1168.75,576.2 L1171.64,575.0 L1174.53,573.8 L1177.41,572.6 L1180.28,571.4 L1183.14,570.2 L1186.00,568.9 L1188.86,567.6 L1191.71,566.3 L1194.55,564.9 L1197.39,563.6 L1200.21,562.2 L1203.04,560.8 L1205.85,559.3 L1208.66,557.8 L1211.46,556.4 L1214.26,554.8 L1217.05,553.3 L1219.83,551.7 L1222.60,550.1 L1225.37,548.5 L1228.13,546.8 L1230.88,545.1 L1233.62,543.4 L1236.36,541.6 L1239.09,539.8 L1241.81,538.0 L1244.52,536.2 L1247.22,534.3 L1249.92,532.4 L1252.60,530.5 L1255.28,528.5 L1257.95,526.5 L1260.61,524.5 L1263.26,522.4 L1265.91,520.3 L1268.54,518.2 L1271.17,516.0 L1273.78,513.8 L1276.39,511.6 L1278.98,509.3 L1281.57,507.0"/>
<path stroke="#ff10ff" d="M450.95,311.7 L452.20,315.3 L453.49,319.0 L454.80,322.6 L456.14,326.2 L457.49,329.8 L458.88,333.4 L460.28,337.0 L461.70,340.5 L463.14,344.1 L464.61,347.6 L466.08,351.1 L467.58,354.6 L469.09,358.1 L470.62,361.6 L472.16,365.1 L473.71,368.6 L475.27,372.0 L476.84,375.5 L478.43,378.9 L480.02,382.4 L481.62,385.8 L483.22,389.2 L484.83,392.7 L486.45,396.1 L488.07,399.5 L489.69,403.0 L491.31,406.4 L492.94,409.8 L494.56,413.2 L496.18,416.7 L497.80,420.1 L499.42,423.5 L501.03,427.0 L502.63,430.4 L504.23,433.9 L505.82,437.3 L507.41,440.8 L508.98,444.2 L510.54,447.7 L512.09,451.2 L513.63,454.7 L515.16,458.2 L516.67,461.7 L518.18,465.3 L519.66,468.8 L521.14,472.3 L522.60,475.9 L524.05,479.5 L525.48,483.0 L526.91,486.6 L528.31,490.2 L529.71,493.8 L531.08,497.4 L532.45,501.1 L533.80,504.7 L535.13,508.3 L536.45,512.0 L537.76,515.6 L539.05,519.3 L540.33,523.0 L541.59,526.7 L542.83,530.4 L544.06,534.1 L545.27,537.8 L546.47,541.5 L547.65,545.2 L548.81,548.9 L549.96,552.7 L551.09,556.4 L552.21,560.2 L553.30,563.9 L554.38,567.7 L555.45,571.5 L556.49,575.3 L557.52,579.1 L558.53,582.9 L559.53,586.7 L560.50,590.5 L561.46,594.3 L562.40,598.1 L563.32,602.0 L564.22,605.8 L565.11,609.7 L565.97,613.5 L566.82,617.4 L567.66,621.3 L568.47,625.1 L569.27,629.0 L570.05,632.9 L570.82,636.8 L571.57,640.7 L572.30,644.6 L573.02,648.5 L573.72,652.4 L574.41,656.3 L575.08,660.3 L575.73,664.2 L576.37,668.1 L577.00,672.1 L577.61,676.0 L578.21,680.0 L578.79,683.9 L579.36,687.9 L579.91,691.8 L580.45,695.8 L580.98,699.8 L581.49,703.8 L581.99,707.7 L582.48,711.7 L582.95,715.7 L583.42,719.7 L583.87,723.7 L584.30,727.7 L584.73,731.7 L585.14,735.7 L585.54,739.7 L585.94,743.7 L586.31,747.7 L586.68,751.7 L587.04,755.8 L587.39,759.8 L587.72,763.8 L588.05,767.8 L588.36,771.9 L588.67,775.9 L588.96,779.9 L589.25,784.0 L589.53,788.0 L589.79,792.0 L590.05,796.1 L590.27,800.1 L590.47,804.2 L590.67,808.2 L590.86,812.3 L591.04,816.3 L591.22,820.4 L591.39,824.4 L591.55,828.5 L591.71,832.5 L591.86,836.6 L592.00,840.6 L592.14,844.7 L592.28,848.7 L592.40,852.8 L592.53,856.8 L592.64,860.9 L592.77,864.9 L592.90,869.0 L593.02,873.0 L593.14,877.1 L593.25,881.1 L593.35,885.2 L593.45,889.2 L593.55,893.3 L593.64,897.3 L593.73,901.4 L593.81,905.4 L593.89,909.4 L593.96,913.5 L594.04,917.5 L594.10,921.6 L594.17,925.6 L594.23,929.6 L594.29,933.7 L594.35,937.7 L594.40,941.7 L594.46,945.7 L594.51,949.8 L594.56,953.8 L594.60,957.8 L594.65,961.8 L594.69,965.8 L594.74,969.8 L594.78,973.8 L594.82,977.8 L594.86,981.8 L594.90,985.8 L594.94,989.8 L594.98,993.8 L595.02,997.8 L595.06,1001.8 L595.11,1005.8 L595.15,1009.7 L595.68,1264.0 L596.59,1264.0 L597.38,1010.0 L597.29,1005.9 L597.21,1001.8 L597.14,997.8 L597.07,993.7 L597.02,989.6 L596.98,985.6 L596.95,981.5 L596.92,977.5 L596.91,973.4 L596.90,969.4 L596.91,965.4 L596.92,961.4 L596.94,957.4 L596.97,953.3 L597.00,949.3 L597.05,945.3 L597.10,941.3 L597.16,937.4 L597.22,933.4 L597.29,929.4 L597.37,925.4 L597.46,921.4 L597.55,917.4 L597.65,913.5 L597.75,909.5 L597.86,905.5 L597.98,901.6 L598.10,897.6 L598.22,893.6 L598.35,889.6 L598.49,885.7 L598.62,881.7 L598.77,877.7 L598.92,873.8 L599.07,869.8 L599.22,865.8 L599.38,861.8 L599.54,857.8 L599.69,853.8 L599.84,849.9 L599.98,845.9 L600.13,841.9 L600.28,837.9 L600.43,833.8 L600.58,829.8 L600.73,825.8 L600.89,821.8 L601.04,817.8 L601.20,813.7 L601.37,809.7 L601.53,805.6 L601.71,801.6 L601.90,797.6 L602.10,793.5 L602.33,789.5 L602.60,785.4 L602.89,781.4 L603.20,777.4 L603.53,773.3 L603.89,769.3 L604.28,765.3 L604.70,761.3 L605.15,757.3 L605.64,753.4 L606.16,749.4 L606.72,745.4 L607.33,741.5 L607.97,737.6 L608.66,733.7 L609.40,729.8 L610.19,725.9 L611.03,722.1 L611.92,718.3 L612.87,714.5 L613.87,710.7 L614.94,707.0 L616.06,703.2 L617.25,699.6 L618.51,695.9 L619.84,692.3 L621.23,688.7 L622.70,685.1 L624.24,681.6 L625.86,678.2 L627.56,674.9 L629.34,671.6 L631.20,668.5 L633.15,665.4 L635.18,662.5 L637.31,659.7 L639.53,657.1 L641.84,654.6 L644.24,652.3 L646.73,650.1 L649.29,648.1 L651.92,646.2 L654.62,644.5 L657.37,642.9 L660.17,641.5 L663.01,640.2 L665.89,639.0 L668.79,637.9 L671.73,637.0 L674.68,636.1 L677.65,635.4 L680.64,634.8 L683.64,634.3 L686.67,633.8 L689.70,633.5 L692.75,633.2 L695.80,633.0 L698.87,632.8 L701.94,632.7 L705.02,632.6 L708.11,632.6 L711.20,632.6 L714.29,632.6 L717.38,632.6 L720.46,632.6 L723.55,632.6 L726.63,632.7 L729.71,632.7 L732.79,632.7 L735.86,632.7 L738.93,632.6 L742.00,632.6 L745.07,632.6 L748.13,632.6 L751.19,632.6 L754.25,632.5 L757.31,632.5 L760.36,632.4 L763.41,632.4 L766.46,632.3 L769.51,632.3 L772.55,632.2 L775.60,632.2 L778.64,632.1 L781.68,632.0 L784.72,632.0 L787.76,631.9 L790.79,631.8 L793.83,631.7 L796.86,631.6 L799.90,631.6 L802.93,631.5 L805.96,631.4 L808.99,631.3 L812.02,631.2 L815.04,631.1 L818.07,631.0 L821.10,630.9 L824.12,630.8 L827.15,630.7 L830.17,630.6 L833.20,630.5 L836.23,630.3 L839.25,630.2 L842.27,630.1 L845.30,630.0 L848.32,629.9 L851.35,629.8 L854.38,629.7 L857.40,629.5 L860.43,629.4 L863.45,629.3 L866.48,629.2 L869.51,629.1 L872.54,629.0 L875.57,628.8 L878.59,628.7 L881.62,628.6 L884.65,628.5 L887.68,628.4 L890.71,628.2 L893.74,628.1 L896.77,628.0 L899.80,627.9 L902.84,627.7 L905.87,627.6 L908.90,627.5 L911.93,627.4 L914.96,627.2 L918.00,627.1 L921.03,627.0 L924.06,626.8 L927.10,626.7 L930.13,626.6 L933.16,626.4 L936.20,626.3 L939.23,626.2 L942.27,626.0 L945.30,625.9 L948.34,625.7 L951.37,625.6 L954.41,625.4 L957.44,625.3 L960.48,625.1 L963.51,625.0 L966.55,624.8 L969.59,624.7 L972.62,624.5 L975.66,624.4 L978.69,624.2 L981.73,624.0 L984.77,623.9 L987.80,623.7 L990.84,623.5 L993.88,623.4 L996.91,623.2 L999.95,623.0 L1002.99,622.8 L1006.03,622.6 L1009.06,622.5 L1012.10,622.3 L1015.14,622.1 L1018.17,621.9 L1021.21,621.7 L1024.25,621.5 L1027.29,621.3 L1030.32,621.1 L1033.36,620.9 L1036.40,620.7 L1039.44,620.5 L1042.47,620.3 L1045.51,620.1 L1048.55,619.9 L1051.58,619.6 L1054.62,619.4 L1057.66,619.2 L1060.69,619.0 L1063.73,618.7 L1066.77,618.5 L1069.80,618.3 L1072.84,618.0 L1075.88,617.8 L1078.91,617.5 L1081.95,617.3 L1084.98,617.0 L1088.02,616.8 L1091.06,616.5 L1094.09,616.3 L1097.13,616.0 L1100.16,615.7 L1103.20,615.5 L1106.23,615.2 L1109.27,614.9 L1112.30,614.6 L1115.33,614.3 L1118.37,614.0 L1121.40,613.7 L1124.43,613.4 L1127.47,613.1 L1130.50,612.8 L1133.53,612.5 L1136.56,612.2 L1139.60,611.9 L1142.63,611.6 L1145.66,611.2 L1148.69,610.9 L1151.72,610.6 L1154.75,610.2 L1157.78,609.9 L1160.81,609.5 L1163.84,609.2 L1166.87,608.8 L1169.90,608.5 L1172.93,608.1 L1175.96,607.7 L1178.98,607.4 L1182.01,607.0 L1185.04,606.6 L1188.07,606.2 L1191.09,605.8 L1194.12,605.4 L1197.14,605.0 L1200.17,604.6 L1203.19,604.2 L1206.22,603.8 L1209.24,603.4 L1212.26,603.0 L1215.29,602.5 L1218.31,602.1 L1221.33,601.7 L1224.35,601.2 L1227.37,600.8 L1230.39,600.3 L1233.41,599.8 L1236.43,599.4 L1239.45,598.9 L1242.46,598.4 L1245.48,597.9 L1248.49,597.4 L1251.51,596.9 L1254.52,596.4 L1257.53,595.9 L1260.54,595.3 L1263.54,594.8 L1266.55,594.2 L1269.55,593.6 L1272.55,593.0 L1275.55,592.4 L1278.54,591.8 L1281.54,591.2 L1284.53,590.5 L1287.52,589.8 L1290.50,589.1 L1293.48,588.4 L1296.46,587.7 L1299.44,587.0 L1302.41,586.2 L1305.38,585.4 L1308.34,584.6 L1311.31,583.8 L1314.26,582.9 L1317.22,582.1 L1320.17,581.2 L1323.11,580.2 L1326.05,579.3 L1328.99,578.3 L1331.92,577.3 L1334.85,576.3 L1337.78,575.3 L1340.69,574.2 L1343.61,573.1 L1346.52,571.9 L1349.42,570.8 L1352.32,569.6 L1355.21,568.4 L1358.10,567.1 L1360.98,565.8 L1363.86,564.5 L1366.73,563.2 L1369.59,561.8 L1372.45,560.4 L1375.30,558.9 L1378.14,557.4 L1380.98,555.9 L1383.82,554.3 L1386.64,552.8 L1389.46,551.1 L1392.27,549.4 L1395.08,547.7 L1397.88,546.0 L1400.67,544.2 L1403.45,542.4"/>
<path stroke="#ff8210" d="M525.97,257.1 L527.30,260.7 L528.65,264.2 L530.00,267.8 L531.37,271.3 L532.74,274.9 L534.13,278.4 L535.53,282.0 L536.94,285.5 L538.36,289.0 L539.78,292.6 L541.22,296.1 L542.67,299.6 L544.12,303.1 L545.58,306.7 L547.05,310.2 L548.52,313.7 L550.00,317.2 L551.49,320.7 L552.98,324.2 L554.48,327.7 L555.98,331.2 L557.49,334.7 L559.00,338.2 L560.52,341.7 L562.04,345.2 L563.56,348.7 L565.08,352.2 L566.61,355.7 L568.14,359.2 L569.67,362.7 L571.20,366.2 L572.74,369.7 L574.27,373.2 L575.80,376.7 L577.33,380.2 L578.87,383.7 L580.40,387.2 L581.93,390.7 L583.45,394.2 L584.98,397.7 L586.50,401.2 L588.02,404.7 L589.54,408.3 L591.05,411.8 L592.56,415.3 L594.06,418.8 L595.56,422.3 L597.05,425.8 L598.54,429.4 L600.02,432.9 L601.49,436.4 L602.96,440.0 L604.42,443.5 L605.88,447.1 L607.32,450.6 L608.76,454.2 L610.18,457.7 L611.60,461.3 L613.01,464.9 L614.41,468.4 L615.80,472.0 L617.18,475.6 L618.54,479.2 L619.90,482.8 L621.24,486.4 L622.58,490.0 L623.89,493.6 L625.20,497.2 L626.49,500.9 L627.77,504.5 L629.04,508.1 L630.29,511.8 L631.52,515.4 L632.74,519.1 L633.94,522.8 L635.13,526.4 L636.30,530.1 L637.46,533.8 L638.60,537.5 L639.72,541.2 L640.82,544.9 L641.90,548.6 L642.97,552.4 L644.01,556.1 L645.04,559.9 L646.04,563.6 L647.03,567.4 L648.00,571.2 L648.94,575.0 L649.87,578.8 L650.77,582.6 L651.66,586.4 L652.52,590.2 L653.37,594.1 L654.20,597.9 L655.01,601.7 L655.80,605.6 L656.57,609.5 L657.32,613.3 L658.06,617.2 L658.78,621.1 L659.48,625.0 L660.17,628.9 L660.83,632.8 L661.49,636.7 L662.12,640.7 L662.74,644.6 L663.35,648.5 L663.93,652.5 L664.51,656.4 L665.07,660.4 L665.61,664.3 L666.14,668.3 L666.65,672.3 L667.15,676.3 L667.64,680.2 L668.11,684.2 L668.57,688.2 L669.02,692.2 L669.46,696.2 L669.88,700.2 L670.29,704.2 L670.68,708.2 L671.07,712.2 L671.45,716.3 L671.81,720.3 L672.16,724.3 L672.50,728.3 L672.83,732.4 L673.15,736.4 L673.46,740.4 L673.76,744.5 L674.06,748.5 L674.34,752.5 L674.61,756.6 L674.87,760.6 L675.13,764.7 L675.38,768.7 L675.62,772.8 L675.85,776.8 L676.07,780.9 L676.29,784.9 L676.50,789.0 L676.67,793.0 L676.84,797.1 L677.00,801.1 L677.16,805.2 L677.31,809.2 L677.45,813.2 L677.60,817.3 L677.73,821.3 L677.87,825.4 L678.00,829.4 L678.12,833.5 L678.24,837.5 L678.36,841.5 L678.48,845.6 L678.59,849.6 L678.70,853.6 L678.81,857.7 L678.92,861.7 L679.02,865.7 L679.13,869.7 L679.25,873.8 L679.37,877.8 L679.48,881.8 L679.59,885.8 L679.71,889.8 L679.82,893.8 L679.93,897.8 L680.05,901.8 L680.16,905.8 L680.27,909.7 L680.38,913.7 L680.50,917.7 L680.61,921.7 L680.73,925.6 L680.85,929.6 L680.97,933.5 L681.09,937.5 L681.22,941.4 L681.34,945.3 L682.12,1021.0 L683.03,1021.0 L683.81,945.7 L683.80,941.7 L683.81,937.7 L683.83,933.7 L683.85,929.7 L683.88,925.7 L683.93,921.7 L683.98,917.7 L684.04,913.7 L684.11,909.7 L684.19,905.7 L684.28,901.6 L684.37,897.6 L684.48,893.6 L684.59,889.6 L684.71,885.5 L684.84,881.5 L684.97,877.5 L685.12,873.4 L685.27,869.4 L685.43,865.4 L685.60,861.3 L685.77,857.3 L685.95,853.3 L686.13,849.2 L686.29,845.2 L686.46,841.2 L686.64,837.1 L686.82,833.1 L687.01,829.1 L687.20,825.1 L687.40,821.0 L687.61,817.0 L687.81,813.0 L688.03,809.0 L688.24,805.0 L688.47,801.0 L688.71,797.0 L688.98,793.0 L689.26,789.0 L689.54,785.1 L689.83,781.1 L690.12,777.1 L690.41,773.2 L690.72,769.2 L691.03,765.3 L691.35,761.3 L691.69,757.4 L692.03,753.4 L692.39,749.5 L692.77,745.5 L693.17,741.6 L693.58,737.6 L694.02,733.6 L694.48,729.7 L694.97,725.7 L695.48,721.7 L696.02,717.7 L696.60,713.7 L697.20,709.7 L697.84,705.6 L698.52,701.6 L699.25,697.6 L700.04,693.6 L700.90,689.6 L701.84,685.7 L702.87,681.8 L704.00,678.0 L705.24,674.3 L706.60,670.7 L708.09,667.2 L709.72,663.8 L711.50,660.6 L713.42,657.5 L715.50,654.6 L717.70,651.9 L720.03,649.3 L722.47,647.1 L725.02,645.0 L727.66,643.3 L730.38,641.8 L733.17,640.6 L736.04,639.6 L738.95,638.9 L741.92,638.4 L744.93,638.0 L747.97,637.8 L751.03,637.6 L754.11,637.6 L757.19,637.5 L760.28,637.5 L763.36,637.4 L766.44,637.4 L769.52,637.4 L772.60,637.3 L775.67,637.3 L778.75,637.3 L781.82,637.2 L784.89,637.2 L787.96,637.1 L791.03,637.1 L794.10,637.1 L797.17,637.0 L800.23,637.0 L803.30,637.0 L806.36,636.9 L809.42,636.9 L812.48,636.9 L815.54,636.8 L818.60,636.8 L821.65,636.8 L824.71,636.7 L827.76,636.7 L830.81,636.6 L833.87,636.6 L836.92,636.6 L839.97,636.5 L843.02,636.5 L846.06,636.4 L849.11,636.4 L852.16,636.4 L855.20,636.3 L858.25,636.3 L861.29,636.2 L864.33,636.2 L867.38,636.1 L870.42,636.1 L873.46,636.0 L876.50,636.0 L879.54,635.9 L882.58,635.9 L885.62,635.8 L888.66,635.7 L891.69,635.7 L894.73,635.6 L897.77,635.6 L900.80,635.5 L903.84,635.4 L906.87,635.3 L909.91,635.3 L912.94,635.2 L915.98,635.1 L919.01,635.0 L922.05,635.0 L925.08,634.9 L928.11,634.8 L931.15,634.7 L934.18,634.6 L937.21,634.5 L940.24,634.4 L943.28,634.3 L946.31,634.2 L949.34,634.1 L952.38,634.0 L955.41,633.9 L958.44,633.8 L961.48,633.7 L964.51,633.6 L967.54,633.4 L970.58,633.3 L973.61,633.2 L976.64,633.1 L979.68,632.9 L982.71,632.8 L985.75,632.6 L988.78,632.5 L991.82,632.4 L994.86,632.2 L997.89,632.0 L1000.93,631.9 L1003.97,631.7 L1007.01,631.6 L1010.04,631.4 L1013.08,631.2 L1016.12,631.0 L1019.16,630.9 L1022.21,630.7 L1025.25,630.5 L1028.29,630.3 L1031.33,630.1 L1034.38,629.9 L1037.42,629.7 L1040.47,629.4 L1043.51,629.2 L1046.56,629.0 L1049.61,628.8 L1052.65,628.5 L1055.70,628.3 L1058.75,628.1 L1061.80,627.8 L1064.84,627.5 L1067.89,627.3 L1070.94,627.0 L1073.99,626.7 L1077.03,626.4 L1080.08,626.2 L1083.13,625.9 L1086.18,625.5 L1089.22,625.2 L1092.27,624.9 L1095.31,624.6 L1098.36,624.2 L1101.40,623.9 L1104.45,623.5 L1107.49,623.2 L1110.53,622.8 L1113.57,622.4 L1116.61,622.0 L1119.65,621.6 L1122.69,621.2 L1125.73,620.8 L1128.77,620.4 L1131.80,620.0 L1134.84,619.5 L1137.87,619.0 L1140.90,618.6 L1143.93,618.1 L1146.96,617.6 L1149.98,617.1 L1153.01,616.6 L1156.03,616.1 L1159.05,615.5 L1162.07,615.0 L1165.09,614.4 L1168.11,613.9 L1171.12,613.3 L1174.14,612.7 L1177.15,612.1 L1180.15,611.5 L1183.16,610.8 L1186.16,610.2 L1189.16,609.5 L1192.16,608.9 L1195.16,608.2 L1198.15,607.5 L1201.15,606.8 L1204.13,606.0 L1207.12,605.3 L1210.10,604.5 L1213.08,603.8 L1216.06,603.0 L1219.04,602.2 L1222.01,601.4 L1224.98,600.5 L1227.94,599.7 L1230.91,598.8 L1233.87,598.0 L1236.82,597.1 L1239.77,596.1 L1242.72,595.2 L1245.66,594.2 L1248.60,593.2 L1251.53,592.2 L1254.45,591.1 L1257.37,590.1 L1260.29,588.9 L1263.19,587.8 L1266.09,586.6 L1268.99,585.4 L1271.88,584.1 L1274.75,582.8 L1277.63,581.5 L1280.49,580.1 L1283.34,578.7 L1286.19,577.2 L1289.03,575.7 L1291.86,574.2 L1294.69,572.6 L1297.50,571.0 L1300.31,569.4 L1303.12,567.7 L1305.92,566.1 L1308.71,564.4 L1311.49,562.7 L1314.27,561.0 L1317.04,559.3 L1319.80,557.5 L1322.56,555.8 L1325.31,554.0 L1328.06,552.3 L1330.79,550.5 L1333.52,548.7 L1336.25,546.9 L1338.96,545.1 L1341.67,543.2 L1344.37,541.4 L1347.06,539.5 L1349.75,537.6 L1352.42,535.7 L1355.09,533.8 L1357.75,531.8 L1360.40,529.9 L1363.05,527.9 L1365.68,525.9 L1368.31,523.9 L1370.92,521.9 L1373.53,519.8 L1376.13,517.7 L1378.72,515.7 L1381.30,513.5 L1383.87,511.4 L1386.43,509.3 L1388.98,507.1 L1391.52,504.9 L1394.06,502.7 L1396.58,500.5 L1399.09,498.2 L1401.59,495.9 L1404.08,493.6 L1406.56,491.3 L1409.03,489.0 L1411.49,486.6 L1413.94,484.2 L1416.37,481.8 L1418.80,479.4 L1421.21,476.9 L1423.62,474.4 L1426.02,471.9 L1428.42,469.4 L1430.81,466.9 L1433.20,464.4 L1435.59,461.9 L1437.98,459.4 L1440.37,456.9 L1442.77,454.3 L1445.18,451.9 L1447.59,449.4 L1450.01,446.9 L1452.44,444.5 L1454.89,442.1 L1457.35,439.7 L1459.82,437.4 L1462.31,435.1 L1464.83,432.8 L1467.36,430.6 L1469.91,428.4 L1472.49,426.2 L1475.09,424.2 L1477.73,422.1 L1480.38,420.2"/>
<path stroke="#18f0f0" d="M462.50,158.3 L463.38,162.1 L464.28,166.0 L465.20,169.8 L466.12,173.7 L467.06,177.5 L468.01,181.3 L468.98,185.1 L469.95,189.0 L470.94,192.8 L471.93,196.6 L472.94,200.4 L473.95,204.2 L474.97,208.0 L476.00,211.8 L477.04,215.6 L478.08,219.4 L479.13,223.2 L480.19,227.0 L481.24,230.8 L482.31,234.6 L483.38,238.3 L484.45,242.1 L485.52,245.9 L486.60,249.7 L487.67,253.5 L488.75,257.3 L489.83,261.1 L490.91,264.9 L491.99,268.6 L493.06,272.4 L494.14,276.2 L495.21,280.0 L496.28,283.8 L497.35,287.6 L498.41,291.4 L499.46,295.2 L500.52,299.0 L501.56,302.8 L502.60,306.6 L503.63,310.4 L504.66,314.2 L505.68,318.0 L506.69,321.9 L507.69,325.7 L508.69,329.5 L509.67,333.3 L510.65,337.2 L511.62,341.0 L512.58,344.8 L513.53,348.7 L514.47,352.5 L515.41,356.4 L516.33,360.2 L517.24,364.1 L518.14,367.9 L519.02,371.8 L519.90,375.6 L520.76,379.5 L521.62,383.4 L522.46,387.3 L523.28,391.1 L524.10,395.0 L524.90,398.9 L525.69,402.8 L526.46,406.7 L527.22,410.6 L527.97,414.5 L528.70,418.4 L529.41,422.3 L530.11,426.3 L530.80,430.2 L531.47,434.1 L532.12,438.0 L532.76,442.0 L533.39,445.9 L534.00,449.9 L534.59,453.8 L535.18,457.8 L535.74,461.7 L536.30,465.7 L536.84,469.7 L537.36,473.6 L537.88,477.6 L538.38,481.6 L538.86,485.6 L539.34,489.6 L539.80,493.5 L540.25,497.5 L540.68,501.5 L541.11,505.5 L541.52,509.5 L541.92,513.5 L542.31,517.5 L542.69,521.5 L543.06,525.6 L543.41,529.6 L543.76,533.6 L544.09,537.6 L544.42,541.6 L544.73,545.7 L545.03,549.7 L545.30,553.7 L545.54,557.7 L545.78,561.8 L546.00,565.8 L546.22,569.8 L546.43,573.9 L546.63,577.9 L546.83,581.9 L547.01,586.0 L547.20,590.0 L547.37,594.1 L547.54,598.1 L547.70,602.2 L547.87,606.2 L548.05,610.2 L548.21,614.3 L548.37,618.3 L548.53,622.4 L548.67,626.4 L548.81,630.5 L548.95,634.5 L549.07,638.6 L549.19,642.6 L549.31,646.7 L549.42,650.7 L549.52,654.8 L549.62,658.8 L549.72,662.9 L549.81,666.9 L549.89,670.9 L549.97,675.0 L550.05,679.0 L550.12,683.1 L550.19,687.1 L550.25,691.2 L550.31,695.2 L550.37,699.2 L550.42,703.3 L550.47,707.3 L550.52,711.3 L550.57,715.4 L550.61,719.4 L550.65,723.4 L550.69,727.5 L550.73,731.5 L550.76,735.5 L550.79,739.5 L550.82,743.6 L550.85,747.6 L550.88,751.6 L550.91,755.6 L550.94,759.6 L550.97,763.6 L550.76,839.0 L551.67,839.0 L553.17,763.7 L553.42,759.7 L553.65,755.7 L553.86,751.7 L554.05,747.7 L554.22,743.6 L554.38,739.6 L554.52,735.6 L554.65,731.6 L554.75,727.6 L554.84,723.6 L554.92,719.6 L554.98,715.6 L555.04,711.6 L555.09,707.5 L555.14,703.5 L555.18,699.5 L555.21,695.5 L555.24,691.5 L555.26,687.5 L555.29,683.5 L555.31,679.5 L555.33,675.4 L555.35,671.4 L555.37,667.4 L555.39,663.4 L555.41,659.4 L555.44,655.4 L555.46,651.4 L555.50,647.4 L555.54,643.4 L555.58,639.4 L555.64,635.4 L555.70,631.3 L555.76,627.3 L555.84,623.3 L555.93,619.3 L556.03,615.3 L556.14,611.3 L556.26,607.3 L556.40,603.3 L556.55,599.3 L556.71,595.4 L556.90,591.4 L557.09,587.4 L557.31,583.4 L557.59,579.4 L557.88,575.4 L558.20,571.4 L558.55,567.4 L558.92,563.5 L559.31,559.5 L559.73,555.5 L560.18,551.5 L560.66,547.6 L561.17,543.6 L561.71,539.6 L562.28,535.7 L562.89,531.7 L563.52,527.7 L564.20,523.8 L564.90,519.8 L565.65,515.9 L566.43,511.9 L567.25,508.0 L568.11,504.0 L569.01,500.1 L569.96,496.2 L570.95,492.3 L572.00,488.4 L573.11,484.6 L574.28,480.8 L575.51,477.1 L576.81,473.4 L578.18,469.9 L579.62,466.4 L581.15,462.9 L582.76,459.6 L584.45,456.4 L586.23,453.3 L588.11,450.3 L590.09,447.4 L592.16,444.7 L594.34,442.1 L596.62,439.7 L598.98,437.4 L601.43,435.3 L603.95,433.3 L606.55,431.5 L609.21,429.8 L611.93,428.3 L614.70,426.9 L617.51,425.7 L620.37,424.7 L623.27,423.8 L626.20,423.1 L629.17,422.5 L632.16,422.0 L635.18,421.7 L638.22,421.5 L641.29,421.4 L644.37,421.4 L647.47,421.5 L650.58,421.7 L653.70,422.0 L656.83,422.4 L659.96,422.8 L663.09,423.3 L666.22,423.9 L669.34,424.5 L672.46,425.1 L675.56,425.8 L678.65,426.5 L681.72,427.3 L684.78,428.0 L687.82,428.8 L690.85,429.6 L693.86,430.4 L696.86,431.2 L699.84,432.0 L702.82,432.8 L705.79,433.6 L708.74,434.5 L711.70,435.3 L714.64,436.1 L717.58,437.0 L720.52,437.8 L723.45,438.6 L726.38,439.4 L729.31,440.3 L732.24,441.1 L735.17,441.8 L738.11,442.6 L741.04,443.4 L743.99,444.1 L746.94,444.8 L749.89,445.6 L752.86,446.2 L755.83,446.9 L758.81,447.5 L761.81,448.1 L764.81,448.7 L767.82,449.3 L770.84,449.8 L773.86,450.3 L776.90,450.7 L779.93,451.1 L782.98,451.5 L786.02,451.9 L789.07,452.2 L792.13,452.4 L795.18,452.6 L798.24,452.8 L801.29,452.9 L804.35,453.0 L807.40,453.0 L810.45,453.0 L813.50,452.9 L816.55,452.8 L819.59,452.6 L822.63,452.4 L825.66,452.1 L828.69,451.7 L831.72,451.3 L834.73,450.9 L837.75,450.4 L840.76,449.9 L843.76,449.3 L846.77,448.7 L849.77,448.1 L852.76,447.5 L855.75,446.8 L858.74,446.1 L861.72,445.3 L864.71,444.6 L867.68,443.8 L870.66,443.1 L873.63,442.3 L876.60,441.4 L879.57,440.6 L882.53,439.8 L885.50,438.9 L888.46,438.0 L891.41,437.1 L894.37,436.2 L897.32,435.3 L900.27,434.3 L903.21,433.4 L906.16,432.4 L909.10,431.4 L912.04,430.4 L914.98,429.4 L917.92,428.4 L920.85,427.4 L923.78,426.3 L926.71,425.3 L929.64,424.2 L932.57,423.1 L935.50,422.0 L938.42,421.0 L941.34,419.9 L944.26,418.7 L947.18,417.6 L950.10,416.5 L953.02,415.4 L955.94,414.2 L958.85,413.1 L961.76,411.9 L964.68,410.8 L967.59,409.6 L970.50,408.4 L973.41,407.3 L976.32,406.1 L979.23,404.9 L982.14,403.7 L985.04,402.5 L987.95,401.3 L990.86,400.2 L993.76,399.0 L996.67,397.8 L999.57,396.6 L1002.48,395.4 L1005.38,394.2 L1008.29,393.0 L1011.19,391.8 L1014.10,390.6 L1017.00,389.4 L1019.90,388.2 L1022.81,387.0 L1025.71,385.8 L1028.62,384.6 L1031.52,383.4 L1034.43,382.2 L1037.34,381.1 L1040.24,379.9 L1043.15,378.7 L1046.06,377.5 L1048.96,376.3 L1051.87,375.2 L1054.78,374.0 L1057.69,372.8 L1060.59,371.7 L1063.50,370.5 L1066.41,369.3 L1069.32,368.2 L1072.23,367.0 L1075.15,365.9 L1078.06,364.7 L1080.97,363.6 L1083.88,362.5 L1086.80,361.3 L1089.71,360.2 L1092.63,359.1 L1095.55,357.9 L1098.46,356.8 L1101.38,355.7 L1104.30,354.6 L1107.22,353.5 L1110.14,352.4 L1113.06,351.3 L1115.99,350.2 L1118.91,349.1 L1121.83,348.0 L1124.76,346.9 L1127.69,345.9 L1130.61,344.8 L1133.54,343.7 L1136.47,342.7 L1139.41,341.6 L1142.34,340.6 L1145.27,339.5 L1148.21,338.5 L1151.14,337.5 L1154.08,336.4 L1157.02,335.4 L1159.96,334.4 L1162.90,333.4 L1165.84,332.4 L1168.78,331.4 L1171.73,330.4 L1174.67,329.4 L1177.62,328.4 L1180.57,327.5 L1183.52,326.5 L1186.47,325.5 L1189.42,324.6 L1192.37,323.6 L1195.32,322.7 L1198.27,321.7 L1201.23,320.8 L1204.18,319.8 L1207.14,318.9 L1210.10,318.0 L1213.06,317.1 L1216.02,316.1 L1218.98,315.2 L1221.94,314.3 L1224.90,313.4 L1227.86,312.5 L1230.83,311.6 L1233.79,310.8 L1236.76,309.9 L1239.73,309.0 L1242.69,308.1 L1245.66,307.3 L1248.63,306.4 L1251.60,305.6 L1254.57,304.7 L1257.54,303.9 L1260.52,303.0 L1263.49,302.2 L1266.46,301.3 L1269.44,300.5 L1272.41,299.7 L1275.39,298.9 L1278.37,298.1 L1281.35,297.2 L1284.32,296.4 L1287.30,295.6 L1290.28,294.8 L1293.26,294.1 L1296.25,293.3 L1299.23,292.5 L1302.21,291.7 L1305.19,290.9 L1308.18,290.2 L1311.16,289.4 L1314.15,288.6 L1317.13,287.9 L1320.12,287.1 L1323.11,286.4 L1326.09,285.6 L1329.08,284.9 L1332.07,284.1 L1335.06,283.4 L1338.05,282.7 L1341.04,282.0 L1344.03,281.2 L1347.02,280.5 L1350.02,279.8 L1353.01,279.1 L1356.00,278.4 L1358.99,277.7 L1361.99,277.0 L1364.98,276.3 L1367.98,275.6 L1370.97,274.9 L1373.97,274.3 L1376.96,273.6 L1379.96,272.9 L1382.96,272.2 L1385.95,271.6 L1388.95,270.9 L1391.95,270.3 L1394.95,269.6 L1397.95,268.9 L1400.94,268.3 L1403.94,267.7 L1406.94,267.0 L1409.94,266.4 L1412.94,265.7 L1415.94,265.1 L1418.94,264.5"/>
</g></g>
<g filter="url(#soft)">
<g stroke="#262626" stroke-width="5.9" fill="none" stroke-linecap="butt">
<rect x="238.9" y="63.2" width="1886.6" height="1385.3"/>
<path stroke-width="5.0" d="M238.9,1448.5 V1463.7 M238.9,63.2 V48.0 M364.7,1448.5 V1477.0 M364.7,63.2 V34.7 M490.4,1448.5 V1463.7 M490.4,63.2 V48.0 M616.2,1448.5 V1477.0 M616.2,63.2 V34.7 M742.0,1448.5 V1463.7 M742.0,63.2 V48.0 M867.8,1448.5 V1477.0 M867.8,63.2 V34.7 M993.5,1448.5 V1463.7 M993.5,63.2 V48.0 M1119.3,1448.5 V1477.0 M1119.3,63.2 V34.7 M1245.1,1448.5 V1463.7 M1245.1,63.2 V48.0 M1370.9,1448.5 V1477.0 M1370.9,63.2 V34.7 M1496.6,1448.5 V1463.7 M1496.6,63.2 V48.0 M1622.4,1448.5 V1477.0 M1622.4,63.2 V34.7 M1748.2,1448.5 V1463.7 M1748.2,63.2 V48.0 M1874.0,1448.5 V1477.0 M1874.0,63.2 V34.7 M1999.7,1448.5 V1463.7 M1999.7,63.2 V48.0 M2125.5,1448.5 V1477.0 M2125.5,63.2 V34.7 M238.9,62.9 H209.4 M238.9,169.5 H222.70000000000002 M238.9,276.1 H209.4 M238.9,382.7 H222.70000000000002 M238.9,489.3 H209.4 M238.9,595.9 H222.70000000000002 M238.9,702.5 H209.4 M238.9,809.1 H222.70000000000002 M238.9,915.7 H209.4 M238.9,1022.3 H222.70000000000002 M238.9,1128.9 H209.4 M238.9,1235.5 H222.70000000000002 M238.9,1342.1 H209.4 M238.9,1448.7 H222.70000000000002"/>
</g>
<g font-size="56" text-anchor="middle">
<text transform="translate(363.2,1538.3) scale(1,1.06)">-0.6</text>
<text transform="translate(614.7,1538.3) scale(1,1.06)">-0.4</text>
<text transform="translate(866.3,1538.3) scale(1,1.06)">-0.2</text>
<text transform="translate(1119.3,1538.3) scale(1,1.06)">0.0</text>
<text transform="translate(1370.9,1538.3) scale(1,1.06)">0.2</text>
<text transform="translate(1622.4,1538.3) scale(1,1.06)">0.4</text>
<text transform="translate(1874.0,1538.3) scale(1,1.06)">0.6</text>
<text transform="translate(2125.5,1538.3) scale(1,1.06)">0.8</text>
</g>
<g font-size="56" text-anchor="end">
<text transform="translate(194.5,81.5) scale(1,1.06)">-3</text>
<text transform="translate(194.5,294.7) scale(1,1.06)">-4</text>
<text transform="translate(194.5,507.9) scale(1,1.06)">-5</text>
<text transform="translate(194.5,721.1) scale(1,1.06)">-6</text>
<text transform="translate(194.5,934.3) scale(1,1.06)">-7</text>
<text transform="translate(194.5,1147.5) scale(1,1.06)">-8</text>
<text transform="translate(194.5,1360.7) scale(1,1.06)">-9</text>
</g>
<text font-size="56" transform="translate(1056.6,1611) scale(1.05,1.06)">E</text>
<text font-size="56" transform="translate(1097.3,1635.8) scale(1,1.06)">SCE</text>
<text font-size="56" transform="translate(1229.6,1611) scale(1.036,1.06)">(V)</text>
<text font-size="57" transform="translate(63.5,880.2) rotate(-90)">log I(A<tspan font-size="46" dx="1.8" dy="-6.5">·</tspan><tspan dx="1.8" dy="6.5">cm</tspan><tspan dx="2" dy="-29" font-size="34">-2</tspan><tspan dx="3.5" dy="29">)</tspan></text>
<line x1="1335.5" x2="1509.5" y1="735.4" y2="735.4" stroke="#222222" stroke-width="7" stroke-linecap="round"/>
<text class="lg" font-size="56.5" transform="translate(1521,761.0) scale(1,0.95)">with SRB for 0 d</text>
<line x1="1335.5" x2="1509.5" y1="831.2" y2="831.2" stroke="#e42434" stroke-width="7" stroke-linecap="round"/>
<text class="lg" font-size="56.5" transform="translate(1525,856.8) scale(1,0.95)">with SRB for 1 d</text>
<line x1="1335.5" x2="1509.5" y1="926.9" y2="926.9" stroke="#2020ff" stroke-width="7" stroke-linecap="round"/>
<text class="lg" font-size="56.5" transform="translate(1525,952.5) scale(1,0.95)">with SRB for 4 d</text>
<line x1="1335.5" x2="1509.5" y1="1022.7" y2="1022.7" stroke="#1cf01c" stroke-width="7" stroke-linecap="round"/>
<text class="lg" font-size="56.5" transform="translate(1525,1048.3) scale(1,0.95)">with SRB for 10 d</text>
<line x1="1335.5" x2="1509.5" y1="1118.5" y2="1118.5" stroke="#ff18ff" stroke-width="7" stroke-linecap="round"/>
<text class="lg" font-size="56.5" transform="translate(1525,1144.1) scale(1,0.95)">with SRB for 17 d</text>
<line x1="1335.5" x2="1509.5" y1="1214.2" y2="1214.2" stroke="#ff8414" stroke-width="7" stroke-linecap="round"/>
<text class="lg" font-size="56.5" transform="translate(1525,1239.8) scale(1,0.95)">with SRB for 24 d</text>
<line x1="1335.5" x2="1509.5" y1="1310.0" y2="1310.0" stroke="#1cf0f0" stroke-width="7" stroke-linecap="round"/>
<text class="lg" font-size="56.5" transform="translate(1525,1335.6) scale(1,0.95)">with SRB for 31 d</text>
</g>
</svg></body></html>
